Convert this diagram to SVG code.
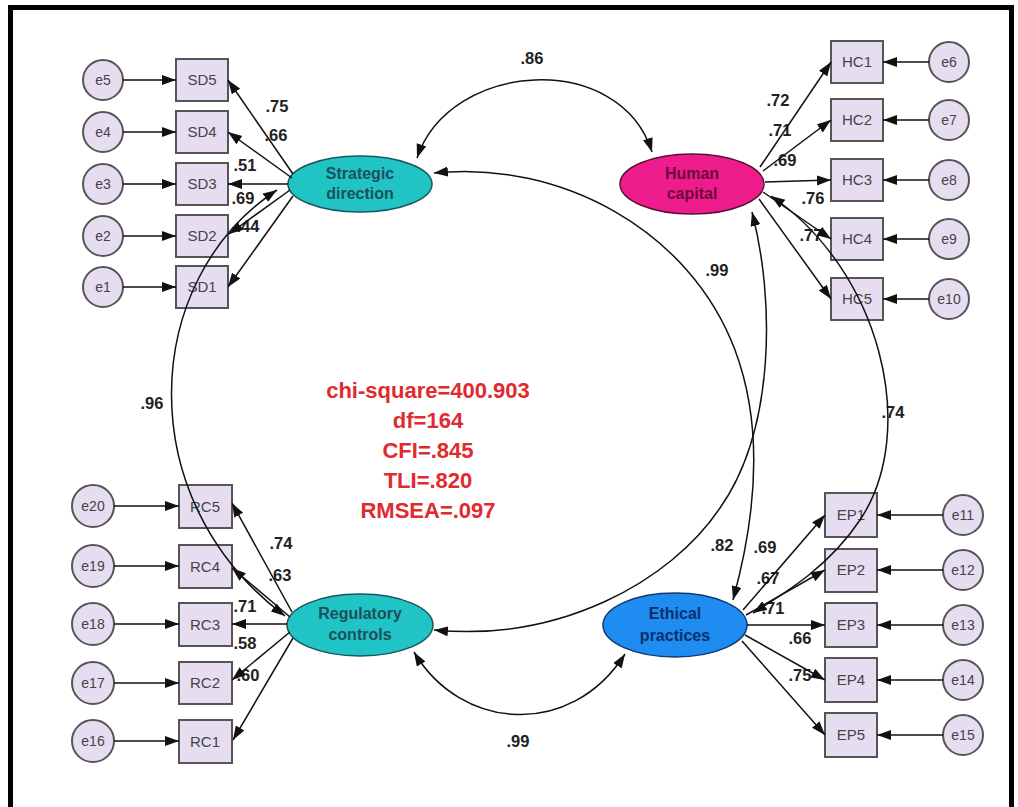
<svg xmlns="http://www.w3.org/2000/svg" width="1018" height="807" viewBox="0 0 1018 807">
<defs>
<marker id="a" markerUnits="userSpaceOnUse" markerWidth="15" markerHeight="11" refX="14" refY="5" orient="auto-start-reverse">
<path d="M0,0 L14,5 L0,10 z" fill="#111"/>
</marker>
<style>
.box{fill:#e6def0;stroke:#555;stroke-width:2}
.err{fill:#e6def0;stroke:#555;stroke-width:2}
.bt{font-family:"Liberation Sans",Arial,sans-serif;font-size:15px;fill:#444;text-anchor:middle}
.et{font-family:"Liberation Sans",Arial,sans-serif;font-size:14px;fill:#444;text-anchor:middle}
.lt{font-family:"Liberation Sans",Arial,sans-serif;font-size:16px;font-weight:bold;text-anchor:middle}
.num{font-family:"Liberation Sans",Arial,sans-serif;font-size:16.5px;font-weight:bold;fill:#222;text-anchor:middle}
.fit{font-family:"Liberation Sans",Arial,sans-serif;font-size:22px;font-weight:bold;fill:#e02a2e;text-anchor:middle}
.ln{fill:none;stroke:#111;stroke-width:1.5;marker-end:url(#a)}
.cv{fill:none;stroke:#111;stroke-width:1.5;marker-start:url(#a);marker-end:url(#a)}
</style>
</defs>
<rect x="0" y="0" width="1018" height="807" fill="#fff"/>
<rect x="10.5" y="7.5" width="1001" height="820" fill="none" stroke="#000" stroke-width="5"/>

<!-- Strategic direction cluster -->
<g id="SD">
<ellipse cx="360" cy="184" rx="72" ry="28" fill="#20c4c4" stroke="#1a5560" stroke-width="1.5"/>
<text class="lt" x="360" y="179" fill="#1c4f5c">Strategic</text>
<text class="lt" x="360" y="199" fill="#1c4f5c">direction</text>
</g>
<g id="SD5"><rect class="box" x="176" y="59" width="52" height="42"/><text class="bt" x="202" y="85">SD5</text></g>
<g id="SD4"><rect class="box" x="176" y="111" width="52" height="42"/><text class="bt" x="202" y="137">SD4</text></g>
<g id="SD3"><rect class="box" x="176" y="163" width="52" height="42"/><text class="bt" x="202" y="189">SD3</text></g>
<g id="SD2"><rect class="box" x="176" y="215" width="52" height="42"/><text class="bt" x="202" y="241">SD2</text></g>
<g id="SD1"><rect class="box" x="176" y="266" width="52" height="42"/><text class="bt" x="202" y="292">SD1</text></g>
<g id="e5"><circle class="err" cx="103" cy="80" r="20"/><text class="et" x="103" y="85">e5</text></g>
<g id="e4"><circle class="err" cx="103" cy="132" r="20"/><text class="et" x="103" y="137">e4</text></g>
<g id="e3"><circle class="err" cx="103" cy="184" r="20"/><text class="et" x="103" y="189">e3</text></g>
<g id="e2"><circle class="err" cx="103" cy="236" r="20"/><text class="et" x="103" y="241">e2</text></g>
<g id="e1"><circle class="err" cx="103" cy="287" r="20"/><text class="et" x="103" y="292">e1</text></g>

<!-- Human capital cluster -->
<g id="HC">
<ellipse cx="692" cy="184" rx="72" ry="30" fill="#ee1c8c" stroke="#5a1030" stroke-width="1.5"/>
<text class="lt" x="692" y="179" fill="#6a0a3a">Human</text>
<text class="lt" x="692" y="199" fill="#6a0a3a">capital</text>
</g>
<g id="HC1"><rect class="box" x="831" y="41" width="52" height="42"/><text class="bt" x="857" y="67">HC1</text></g>
<g id="HC2"><rect class="box" x="831" y="99" width="52" height="42"/><text class="bt" x="857" y="125">HC2</text></g>
<g id="HC3"><rect class="box" x="831" y="159" width="52" height="42"/><text class="bt" x="857" y="185">HC3</text></g>
<g id="HC4"><rect class="box" x="831" y="218" width="52" height="42"/><text class="bt" x="857" y="244">HC4</text></g>
<g id="HC5"><rect class="box" x="831" y="278" width="52" height="42"/><text class="bt" x="857" y="304">HC5</text></g>
<g id="e6"><circle class="err" cx="949" cy="62" r="20"/><text class="et" x="949" y="67">e6</text></g>
<g id="e7"><circle class="err" cx="949" cy="120" r="20"/><text class="et" x="949" y="125">e7</text></g>
<g id="e8"><circle class="err" cx="949" cy="180" r="20"/><text class="et" x="949" y="185">e8</text></g>
<g id="e9"><circle class="err" cx="949" cy="239" r="20"/><text class="et" x="949" y="244">e9</text></g>
<g id="e10"><circle class="err" cx="949" cy="299" r="20"/><text class="et" x="949" y="304">e10</text></g>

<!-- Regulatory controls cluster -->
<g id="RC">
<ellipse cx="360" cy="625" rx="73" ry="31" fill="#20c4c4" stroke="#1a5560" stroke-width="1.5"/>
<text class="lt" x="360" y="619" fill="#1c4f5c">Regulatory</text>
<text class="lt" x="360" y="640" fill="#1c4f5c">controls</text>
</g>
<g id="RC5"><rect class="box" x="179" y="485" width="53" height="43"/><text class="bt" x="205" y="512">RC5</text></g>
<g id="RC4"><rect class="box" x="179" y="545" width="53" height="43"/><text class="bt" x="205" y="572">RC4</text></g>
<g id="RC3"><rect class="box" x="179" y="603" width="53" height="43"/><text class="bt" x="205" y="630">RC3</text></g>
<g id="RC2"><rect class="box" x="179" y="662" width="53" height="42"/><text class="bt" x="205" y="688">RC2</text></g>
<g id="RC1"><rect class="box" x="179" y="720" width="53" height="43"/><text class="bt" x="205" y="747">RC1</text></g>
<g id="e20"><circle class="err" cx="93" cy="506" r="21"/><text class="et" x="93" y="511">e20</text></g>
<g id="e19"><circle class="err" cx="93" cy="566" r="21"/><text class="et" x="93" y="571">e19</text></g>
<g id="e18"><circle class="err" cx="93" cy="624" r="21"/><text class="et" x="93" y="629">e18</text></g>
<g id="e17"><circle class="err" cx="93" cy="683" r="21"/><text class="et" x="93" y="688">e17</text></g>
<g id="e16"><circle class="err" cx="93" cy="741" r="21"/><text class="et" x="93" y="746">e16</text></g>

<!-- Ethical practices cluster -->
<g id="EP">
<ellipse cx="675" cy="625" rx="72" ry="32" fill="#1e8cf0" stroke="#123a70" stroke-width="1.5"/>
<text class="lt" x="675" y="619" fill="#0c2f6e">Ethical</text>
<text class="lt" x="675" y="641" fill="#0c2f6e">practices</text>
</g>
<g id="EP1"><rect class="box" x="825" y="493" width="52" height="44"/><text class="bt" x="851" y="520">EP1</text></g>
<g id="EP2"><rect class="box" x="825" y="549" width="52" height="43"/><text class="bt" x="851" y="575">EP2</text></g>
<g id="EP3"><rect class="box" x="825" y="603" width="52" height="44"/><text class="bt" x="851" y="630">EP3</text></g>
<g id="EP4"><rect class="box" x="825" y="658" width="52" height="44"/><text class="bt" x="851" y="685">EP4</text></g>
<g id="EP5"><rect class="box" x="825" y="713" width="52" height="44"/><text class="bt" x="851" y="740">EP5</text></g>
<g id="e11"><circle class="err" cx="963" cy="515" r="20"/><text class="et" x="963" y="520">e11</text></g>
<g id="e12"><circle class="err" cx="963" cy="570" r="20"/><text class="et" x="963" y="575">e12</text></g>
<g id="e13"><circle class="err" cx="963" cy="625" r="20"/><text class="et" x="963" y="630">e13</text></g>
<g id="e14"><circle class="err" cx="963" cy="680" r="20"/><text class="et" x="963" y="685">e14</text></g>
<g id="e15"><circle class="err" cx="963" cy="735" r="20"/><text class="et" x="963" y="740">e15</text></g>

<!-- fit statistics -->
<g id="fit">
<text class="fit" x="428" y="398">chi-square=400.903</text>
<text class="fit" x="428" y="428">df=164</text>
<text class="fit" x="428" y="458">CFI=.845</text>
<text class="fit" x="428" y="488">TLI=.820</text>
<text class="fit" x="428" y="518">RMSEA=.097</text>
</g>

<!-- path labels -->
<g id="labels">
<text class="num" x="277" y="112">.75</text>
<text class="num" x="276" y="141">.66</text>
<text class="num" x="245" y="171">.51</text>
<text class="num" x="243" y="204">.69</text>
<text class="num" x="248" y="232">.44</text>
<text class="num" x="778" y="106">.72</text>
<text class="num" x="780" y="136">.71</text>
<text class="num" x="785" y="166">.69</text>
<text class="num" x="813" y="204">.76</text>
<text class="num" x="811" y="241">.77</text>
<text class="num" x="281" y="549">.74</text>
<text class="num" x="280" y="581">.63</text>
<text class="num" x="245" y="612">.71</text>
<text class="num" x="245" y="649">.58</text>
<text class="num" x="248" y="681">.60</text>
<text class="num" x="722" y="551">.82</text>
<text class="num" x="765" y="553">.69</text>
<text class="num" x="768" y="584">.67</text>
<text class="num" x="773" y="614">.71</text>
<text class="num" x="800" y="644">.66</text>
<text class="num" x="800" y="681">.75</text>
<text class="num" x="532" y="64">.86</text>
<text class="num" x="717" y="276">.99</text>
<text class="num" x="152" y="409">.96</text>
<text class="num" x="893" y="418">.74</text>
<text class="num" x="518" y="747">.99</text>
</g>

<!-- connectors -->
<g id="connectors">
<line class="ln" x1="123" y1="80" x2="176" y2="80"/>
<line class="ln" x1="123" y1="132" x2="176" y2="132"/>
<line class="ln" x1="123" y1="184" x2="176" y2="184"/>
<line class="ln" x1="123" y1="236" x2="176" y2="236"/>
<line class="ln" x1="123" y1="287" x2="176" y2="287"/>
<line class="ln" x1="293" y1="174" x2="228" y2="80"/>
<line class="ln" x1="292" y1="178" x2="228" y2="132"/>
<line class="ln" x1="288" y1="184" x2="228" y2="184"/>
<line class="ln" x1="290" y1="190" x2="229" y2="234"/>
<line class="ln" x1="293" y1="196" x2="228" y2="287"/>

<line class="ln" x1="929" y1="62" x2="883" y2="62"/>
<line class="ln" x1="929" y1="120" x2="883" y2="120"/>
<line class="ln" x1="929" y1="180" x2="883" y2="180"/>
<line class="ln" x1="929" y1="239" x2="883" y2="239"/>
<line class="ln" x1="929" y1="299" x2="883" y2="299"/>
<line class="ln" x1="760" y1="167" x2="831" y2="62"/>
<line class="ln" x1="763" y1="171" x2="831" y2="120"/>
<line class="ln" x1="765" y1="182" x2="831" y2="180"/>
<line class="ln" x1="763" y1="192" x2="831" y2="239"/>
<line class="ln" x1="759" y1="199" x2="831" y2="299"/>

<line class="ln" x1="114" y1="506" x2="179" y2="506"/>
<line class="ln" x1="114" y1="566" x2="179" y2="566"/>
<line class="ln" x1="114" y1="624" x2="179" y2="624"/>
<line class="ln" x1="114" y1="683" x2="179" y2="683"/>
<line class="ln" x1="114" y1="741" x2="179" y2="741"/>
<line class="ln" x1="292" y1="612" x2="232" y2="503"/>
<line class="ln" x1="290" y1="617" x2="232" y2="568"/>
<line class="ln" x1="287" y1="624" x2="232" y2="624"/>
<line class="ln" x1="290" y1="632" x2="232" y2="680"/>
<line class="ln" x1="293" y1="638" x2="233" y2="740"/>

<line class="ln" x1="943" y1="515" x2="877" y2="515"/>
<line class="ln" x1="943" y1="570" x2="877" y2="570"/>
<line class="ln" x1="943" y1="625" x2="877" y2="625"/>
<line class="ln" x1="943" y1="680" x2="877" y2="680"/>
<line class="ln" x1="943" y1="735" x2="877" y2="735"/>
<line class="ln" x1="743" y1="610" x2="825" y2="515"/>
<line class="ln" x1="746" y1="615" x2="825" y2="570"/>
<line class="ln" x1="747" y1="625" x2="825" y2="625"/>
<line class="ln" x1="745" y1="635" x2="825" y2="680"/>
<line class="ln" x1="742" y1="641" x2="825" y2="735"/>

<path class="cv" d="M417,158 C450,60 620,50 652,152"/>
<path class="cv" d="M434,173 C560,160 690,230 735,350 C765,430 755,520 733,600"/>
<path class="cv" d="M752,212 C775,300 775,430 720,508 C670,582 560,642 434,630"/>
<path class="cv" d="M277,190 C140,280 130,500 285,616"/>
<path class="cv" d="M771,196 C880,270 920,430 860,520 C830,565 790,590 753,613"/>
<path class="cv" d="M414,652 C460,730 570,740 625,654"/>
</g>
</svg>
